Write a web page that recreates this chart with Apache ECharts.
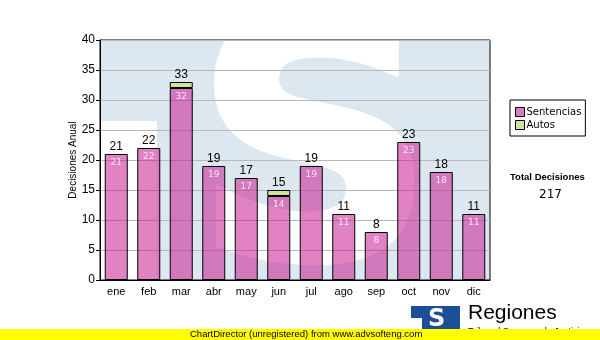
<!DOCTYPE html>
<html>
<head>
<meta charset="utf-8">
<script src="https://cdn.jsdelivr.net/npm/echarts@6/dist/echarts.min.js"></script>
<style>
  html, body { margin: 0; padding: 0; background: #fff; }
  #chart { width: 600px; height: 340px; }
</style>
</head>
<body>
<div id="chart"></div>
<script>
const months = ['ene', 'feb', 'mar', 'abr', 'may', 'jun', 'jul', 'ago', 'sep', 'oct', 'nov', 'dic']
const sentencias = [21, 22, 32, 19, 17, 14, 19, 11, 8, 23, 18, 11]
const autos = [0, 0, 1, 0, 0, 1, 0, 0, 0, 0, 0, 0]
const totals = sentencias.map((v, i) => v + autos[i])
const totalDecisiones = totals.reduce((a, b) => a + b, 0)

const PINK = 'rgba(200, 30, 145, 0.55)'
const GREEN = '#cde59b'
const font = 'Liberation Sans, Arial, sans-serif'
const verdana = 'DejaVu Sans, Verdana, sans-serif'

const chart = echarts.init(document.getElementById('chart'))
chart.setOption({
  animation: false,
  grid: { left: 100, right: 110, top: 40, bottom: 60, show: true, borderColor: '#000', borderWidth: 1, backgroundColor: 'transparent' },
  graphic: [
    // watermark: blue field, white notch under the T bar, big white S
    { type: 'rect', z: -20, shape: { x: 100, y: 40, width: 390, height: 240 }, style: { fill: '#dde7f0' } },
    { type: 'rect', z: -19, shape: { x: 100, y: 121, width: 57, height: 159 }, style: { fill: '#fff' } },
    { type: 'text', z: -18, left: 190, top: -2, style: { text: 'S', fontSize: 335, fontWeight: 'bold', fontFamily: 'DejaVu Sans', fill: '#fff', stroke: '#fff', lineWidth: 8 } },
    { type: 'rect', z: -17, shape: { x: 0, y: 0, width: 600, height: 40 }, style: { fill: '#fff' } },
    { type: 'rect', z: -17, shape: { x: 491, y: 0, width: 109, height: 340 }, style: { fill: '#fff' } },
    { type: 'rect', z: -17, shape: { x: 0, y: 281, width: 600, height: 59 }, style: { fill: '#fff' } },

    // right side info
    { type: 'text', left: 510, top: 172, style: { text: 'Total Decisiones', fontSize: 9.5, fontWeight: 'bold', fontFamily: font, fill: '#000' } },
    { type: 'text', left: 539, top: 189, style: { text: String(totalDecisiones), fontSize: 12, fontFamily: verdana, fill: '#000' } },

    // logo at bottom
    { type: 'rect', shape: { x: 411, y: 306, width: 49, height: 26 }, style: { fill: '#1c4f98' } },
    { type: 'rect', shape: { x: 411, y: 318, width: 11, height: 14 }, style: { fill: '#fff' } },
    { type: 'text', left: 428, top: 308, style: { text: 'S', fontSize: 24, fontWeight: 'bold', fontFamily: 'DejaVu Sans', fill: '#fff' } },
    { type: 'text', left: 468, top: 303, style: { text: 'Regiones', fontSize: 21, fontFamily: font, fill: '#000' } },
    { type: 'text', left: 468, top: 327, style: { text: 'Tribunal Supremo de Justicia', fontSize: 9, fontFamily: font, fill: '#000' } },
    { type: 'rect', shape: { x: 0, y: 329, width: 600, height: 11 }, style: { fill: '#ffff00' } },
    { type: 'text', left: 190, top: 329, style: { text: 'ChartDirector (unregistered) from www.advsofteng.com', fontSize: 9.5, fontFamily: font, fill: '#000' } }
  ],
  legend: {
    orient: 'vertical',
    left: 510,
    top: 100,
    padding: [7, 4, 6, 5],
    itemGap: 3,
    itemWidth: 9,
    itemHeight: 9,
    borderColor: '#000',
    borderWidth: 1,
    icon: 'rect',
    textStyle: { fontSize: 10, fontFamily: verdana, color: '#000', padding: [0, 0, 0, -3] },
    data: [
      { name: 'Sentencias', itemStyle: { color: '#d97cc2', borderColor: '#000', borderWidth: 1 } },
      { name: 'Autos', itemStyle: { color: GREEN, borderColor: '#000', borderWidth: 1 } }
    ]
  },
  xAxis: {
    type: 'category',
    data: months,
    axisLine: { lineStyle: { color: '#000' } },
    axisTick: { alignWithLabel: true, length: 4, lineStyle: { color: '#000' } },
    axisLabel: { color: '#000', fontSize: 11, fontFamily: font, margin: 6 }
  },
  yAxis: {
    type: 'value',
    min: 0,
    max: 40,
    interval: 5,
    name: 'Decisiones Anual',
    nameLocation: 'middle',
    nameGap: 22,
    nameMoveOverlap: false,
    nameTextStyle: { color: '#000', fontSize: 10, fontFamily: font },
    axisLine: { show: true, lineStyle: { color: '#000' } },
    axisTick: { show: true, length: 4, lineStyle: { color: '#000' } },
    axisLabel: { color: '#000', fontSize: 12, fontFamily: font, margin: 5 },
    splitLine: { lineStyle: { color: '#b8b8b8' } }
  },
  series: [
    {
      name: 'Sentencias',
      type: 'bar',
      stack: 'd',
      barWidth: 23,
      data: sentencias,
      itemStyle: { color: PINK, borderColor: '#000', borderWidth: 1 },
      label: { show: true, position: 'insideTop', distance: 4, color: '#fbe6f4', fontSize: 9, fontFamily: verdana }
    },
    {
      name: 'Autos',
      type: 'bar',
      stack: 'd',
      barWidth: 23,
      data: autos.map(v => ({ value: v, itemStyle: { borderWidth: v ? 1 : 0 } })),
      itemStyle: { color: GREEN, borderColor: '#000', borderWidth: 1 }
    },
    {
      name: 'Total',
      type: 'line',
      data: totals,
      symbol: 'circle',
      symbolSize: 1,
      showSymbol: true,
      itemStyle: { color: 'transparent', borderWidth: 0 },
      lineStyle: { width: 0, color: 'transparent' },
      silent: true,
      label: { show: true, position: 'top', distance: 1, color: '#000', fontSize: 12, fontFamily: font }
    }
  ]
})
</script>
</body>
</html>
